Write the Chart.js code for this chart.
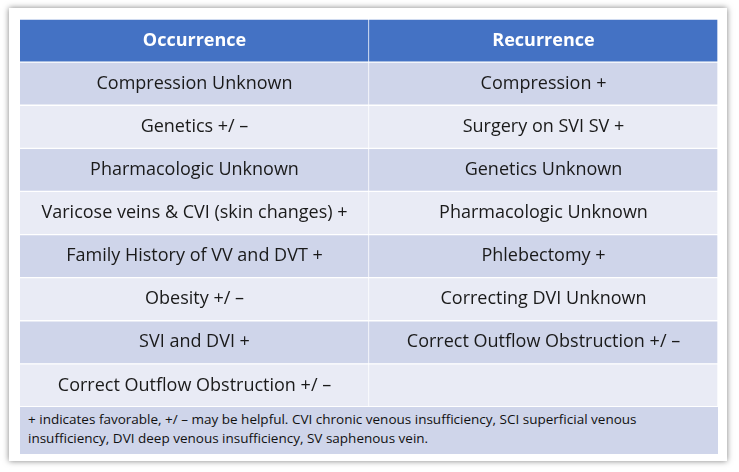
<!DOCTYPE html>
<html><head><meta charset="utf-8">
<script src="https://cdn.jsdelivr.net/npm/chart.js@4"></script>
<style>
body{margin:0;background:#fff;width:739px;height:472px;position:relative;font-family:"Open Sans",sans-serif;}
#frame{position:absolute;left:9px;top:8px;width:718px;height:453px;background:#fff;box-shadow:0 0 6px rgba(0,0,0,0.5);}
#wrap{position:absolute;left:20px;top:19px;width:698px;height:388px;}
#note{position:absolute;left:20px;top:406px;width:690px;height:44px;background:#CFD5EA;padding:3px 0 0 8px;font-size:13.5px;line-height:19px;color:#111;border-top:1px solid #fff;}
</style></head><body>
<div id="frame"></div>
<div id="wrap"><canvas id="tbl"></canvas></div>
<div id="note">+ indicates favorable, +/ – may be helpful. CVI chronic venous insufficiency, SCI superficial venous insufficiency, DVI deep venous insufficiency, SV saphenous vein.</div>
<script>
var headers = ["Occurrence", "Recurrence"];
var occurrence = ["Compression Unknown", "Genetics +/ –", "Pharmacologic Unknown", "Varicose veins & CVI (skin changes) +", "Family History of VV and DVT +", "Obesity +/ –", "SVI and DVI +", "Correct Outflow Obstruction +/ –"];
var recurrence = ["Compression +", "Surgery on SVI SV +", "Genetics Unknown", "Pharmacologic Unknown", "Phlebectomy +", "Correcting DVI Unknown", "Correct Outflow Obstruction +/ –", ""];

var rows = ["header"].concat(occurrence.map(function (v, i) { return "r" + i; }));
var cols = [[headers[0]].concat(occurrence), [headers[1]].concat(recurrence)];

function cellColor(c) {
    if (c.dataIndex === 0) return "#4472C4";
    return c.dataIndex % 2 === 1 ? "#CFD5EA" : "#E9EBF5";
}

var textPlugin = {
    id: "cellText",
    afterDatasetsDraw: function (chart) {
        var ctx = chart.ctx;
        ctx.save();
        ctx.textAlign = "center";
        ctx.textBaseline = "middle";
        chart.data.datasets.forEach(function (ds, di) {
            chart.getDatasetMeta(di).data.forEach(function (bar, j) {
                var cx = (bar.x + bar.base) / 2;
                ctx.font = (j === 0 ? "bold " : "") + "18px 'Open Sans', sans-serif";
                ctx.fillStyle = j === 0 ? "#fff" : "#1a1a1a";
                ctx.fillText(cols[di][j], cx, bar.y);
            });
        });
        ctx.restore();
    }
};

var ctx1 = document.getElementById("tbl").getContext('2d');
new Chart(ctx1,
{
    type: 'bar',
    data:
    {
        labels: rows,
        datasets: [
        { data: rows.map(function () { return 1; }), backgroundColor: cellColor, borderColor: "#fff", borderWidth: 1 },
        { data: rows.map(function () { return 1; }), backgroundColor: cellColor, borderColor: "#fff", borderWidth: 1 }]
    },
    options:
    {
        indexAxis: 'y',
        responsive: true,
        maintainAspectRatio: false,
        animation: false,
        barPercentage: 1,
        categoryPercentage: 1,
        layout: { padding: 0 },
        plugins: { legend: { display: false }, tooltip: { enabled: false } },
        scales:
        {
            x: { stacked: true, min: 0, max: 2, display: false },
            y: { stacked: true, display: false }
        }
    },
    plugins: [textPlugin]
});
</script>
</body></html>
